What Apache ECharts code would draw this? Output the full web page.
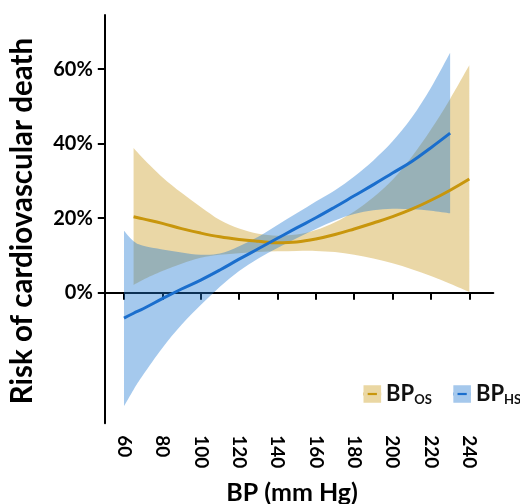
<!DOCTYPE html>
<html>
<head>
<meta charset="utf-8">
<script src="https://cdn.jsdelivr.net/npm/echarts@6/dist/echarts.min.js"></script>
<style>
  html, body { margin: 0; padding: 0; background: #fff; }
  #chart { width: 520px; height: 504px; }
</style>
</head>
<body>
<div id="chart"></div>
<script>
// BP_OS (office) spline fit with 95% band
const osBP = [65, 70, 80, 90, 100, 110, 120, 130, 140, 150, 160, 170, 180, 190, 200, 210, 220, 230, 240]
const osFit = [20.4, 19.8, 18.6, 17.2, 16.0, 15.0, 14.3, 13.8, 13.4, 13.6, 14.4, 15.6, 17.1, 18.7, 20.4, 22.4, 24.8, 27.5, 30.5]
const osLow = [2.1, 3.5, 5.8, 7.8, 9.4, 10.2, 10.6, 10.9, 11.1, 11.2, 11.2, 10.9, 10.2, 9.2, 7.9, 6.3, 4.5, 2.4, 0.2]
const osUp = [38.8, 36.0, 31.0, 26.8, 23.0, 19.5, 17.2, 15.8, 15.3, 15.6, 16.8, 18.9, 21.8, 25.6, 30.3, 36.5, 43.8, 52.0, 61.0]

// BP_HS (home) spline fit with 95% band
const hsBP = [60, 65, 70, 80, 90, 100, 110, 120, 130, 140, 150, 160, 170, 180, 190, 200, 210, 220, 230]
const hsFit = [-6.8, -5.5, -4.3, -1.6, 1.0, 3.4, 6.1, 9.0, 11.8, 14.6, 17.4, 20.1, 23.0, 26.0, 29.0, 32.1, 35.2, 38.9, 42.8]
const hsLow = [-30.4, -26.0, -22.0, -14.8, -8.6, -3.3, 1.6, 5.8, 9.2, 12.0, 14.6, 17.1, 19.4, 21.1, 22.1, 22.5, 22.4, 22.0, 21.3]
const hsUp = [16.6, 13.8, 12.6, 11.6, 10.8, 10.2, 10.5, 12.5, 15.0, 18.2, 21.3, 24.5, 27.5, 31.2, 35.5, 40.6, 47.0, 55.0, 64.4]

const xTicks = [60, 80, 100, 120, 140, 160, 180, 200, 220, 240]
const yTicks = [0, 20, 40, 60]

const FONT = 'Lato'
const OS_LINE = '#c8960c'
const OS_FILL = 'rgba(200,150,20,0.38)'
const HS_LINE = '#1a6ecd'
const HS_FILL = 'rgba(31,120,209,0.4)'
// legend box with a slot so the line shows through
const LEGEND_BOX = 'path://M0,0L21,0L21,18L0,18Z M5,7.5L5,10.5L16,10.5L16,7.5Z'

const pairs = (xs, ys) => xs.map((x, i) => [x, ys[i]])

// catmull-rom through pixel points -> bezier path segments
function curveThrough(pts) {
  let d = ''
  for (let i = 0; i < pts.length - 1; i++) {
    const p0 = pts[Math.max(i - 1, 0)]
    const p1 = pts[i]
    const p2 = pts[i + 1]
    const p3 = pts[Math.min(i + 2, pts.length - 1)]
    const c1 = [p1[0] + (p2[0] - p0[0]) / 6, p1[1] + (p2[1] - p0[1]) / 6]
    const c2 = [p2[0] - (p3[0] - p1[0]) / 6, p2[1] - (p3[1] - p1[1]) / 6]
    d += `C${c1[0]},${c1[1]} ${c2[0]},${c2[1]} ${p2[0]},${p2[1]}`
  }
  return d
}

function band(name, xs, lo, up, fill) {
  return {
    name,
    type: 'custom',
    silent: true,
    data: xs.map((x, i) => [x, lo[i], up[i]]),
    encode: { x: 0, y: [1, 2] },
    renderItem(params, api) {
      if (params.dataIndex !== 0) return null
      const top = xs.map((x, i) => api.coord([x, up[i]]))
      const bot = xs.map((x, i) => api.coord([x, lo[i]])).reverse()
      const d = `M${top[0][0]},${top[0][1]}` + curveThrough(top) +
        `L${bot[0][0]},${bot[0][1]}` + curveThrough(bot) + 'Z'
      return { type: 'path', shape: { pathData: d }, style: { fill } }
    },
  }
}

function fitLine(name, xs, ys, color) {
  return {
    name,
    type: 'line',
    smooth: 0.4,
    symbol: LEGEND_BOX,
    showSymbol: false,
    silent: true,
    data: pairs(xs, ys),
    itemStyle: { color },
    lineStyle: { color, width: 3 },
  }
}

const chart = echarts.init(document.getElementById('chart'))
chart.setOption({
  animation: false,
  textStyle: { fontFamily: FONT },
  grid: { left: 104.8, right: 26.7, top: 15, bottom: 80.8, outerBoundsMode: 'none' },
  legend: {
    left: 362,
    top: 383,
    width: 170,
    padding: 0,
    itemWidth: 17.6,
    itemHeight: 22,
    itemGap: 20,
    data: [
      { name: 'BP_OS', itemStyle: { color: '#ead7a3' }, lineStyle: { color: OS_LINE, width: 3 } },
      { name: 'BP_HS', itemStyle: { color: '#a5c8ec' }, lineStyle: { color: HS_LINE, width: 3 } },
    ],
    formatter: (name) => '{b|BP}{s|' + name.split('_')[1] + '}',
    textStyle: {
      fontFamily: FONT,
      color: '#111',
      rich: {
        b: { fontFamily: FONT, fontWeight: 'bold', fontSize: 22, color: '#111' },
        s: { fontFamily: FONT, fontWeight: 'bold', fontSize: 13, color: '#111', padding: [11, 0, 0, 0] },
      },
    },
  },
  xAxis: {
    type: 'value',
    min: 50,
    max: 252.5,
    name: 'BP (mm Hg)',
    nameLocation: 'middle',
    nameGap: 57,
    nameTextStyle: { fontFamily: FONT, fontWeight: 'bold', fontSize: 25, color: '#000', padding: [0, 14, 0, 0] },
    axisLine: { lineStyle: { color: '#000', width: 2 } },
    axisTick: { customValues: xTicks, length: 7, lineStyle: { color: '#000', width: 2 } },
    axisLabel: {
      customValues: xTicks,
      rotate: -90,
      margin: 12,
      fontFamily: FONT,
      fontWeight: 'bold',
      fontSize: 19,
      color: '#000',
    },
    splitLine: { show: false },
  },
  yAxis: {
    type: 'value',
    min: -35,
    max: 74.5,
    name: 'Risk of cardiovascular death',
    nameLocation: 'middle',
    nameGap: 67,
    nameTextStyle: { fontFamily: FONT, fontWeight: 'bold', fontSize: 29.5, color: '#000', padding: [0, 4, 0, 0] },
    axisLine: { show: true, lineStyle: { color: '#000', width: 2 } },
    axisTick: { show: true, customValues: yTicks, length: 7, lineStyle: { color: '#000', width: 2 } },
    axisLabel: {
      customValues: yTicks,
      margin: 12,
      fontFamily: FONT,
      fontWeight: 'bold',
      fontSize: 20,
      color: '#000',
      formatter: (v) => v + '%',
    },
    splitLine: { show: false },
  },
  series: [
    band('os_band', osBP, osLow, osUp, OS_FILL),
    fitLine('BP_OS', osBP, osFit, OS_LINE),
    band('hs_band', hsBP, hsLow, hsUp, HS_FILL),
    fitLine('BP_HS', hsBP, hsFit, HS_LINE),
  ],
})
</script>
</body>
</html>
